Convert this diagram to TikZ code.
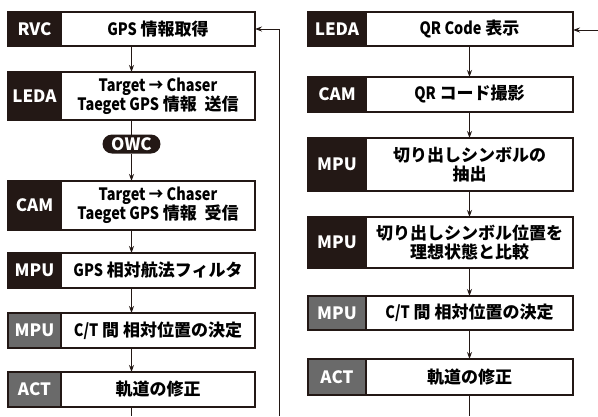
\documentclass[tikz,border=0pt]{standalone}
\usepackage{fontspec}
\setmainfont{Noto Sans CJK JP}
\newfontfamily\cond[FakeStretch=0.85]{Noto Sans CJK JP}
\usetikzlibrary{calc,arrows.meta,shapes.misc}
\definecolor{darklab}{HTML}{231815}
\definecolor{graylab}{HTML}{6A6A6A}
\definecolor{linec}{HTML}{231815}
\tikzset{
  outbox/.style={draw=linec, line width=1.1pt, fill=white, inner sep=0pt, outer sep=0pt},
  labbox/.style={draw=linec, line width=1.1pt, text=white, font=\fontsize{17}{19}\selectfont\bfseries, inner sep=0pt, outer sep=0pt},
  txt/.style={font=\fontsize{17}{19}\selectfont\bfseries, align=center, inner sep=0pt, text=black},
  arr/.style={draw=linec, line width=0.9pt, -{Stealth[length=7pt,width=5pt]}},
  plain/.style={draw=linec, line width=0.9pt},
  pill/.style={rounded rectangle, fill=darklab, text=white, font=\fontsize{17}{19}\selectfont\bfseries, minimum width=58pt, minimum height=19pt, inner sep=0pt, outer sep=0pt}
}
\newcommand\lat[1]{{\cond\bfseries #1}}
\newcommand\flowstep[9]{%
  \node[outbox, minimum width=#5pt, minimum height=#6pt, anchor=north west] (#1) at (#2,#3) {};
  \node[labbox, fill=#7, minimum width=#4pt, minimum height=#6pt, anchor=north west] (#1l) at (#1.north west) {#8};
  \node[txt] (#1t) at ($(#1l.east)!0.5!(#1.east)$) {#9};
}
\begin{document}
\begin{tikzpicture}[x=1pt,y=-1pt]
\useasboundingbox (0,0) rectangle (598,416);
% left column
\flowstep{L1}{8}{12}{53}{247}{34}{darklab}{RVC}{\lat{GPS} 情報取得}
\flowstep{L2}{8}{72}{53}{247}{48}{darklab}{LEDA}{\lat{Target → Chaser}\\\lat{Taeget GPS} 情報\ \ 送信}
\node[pill] (owc) at (131.5,144) {OWC};
\flowstep{L3}{8}{181}{53}{247}{49}{darklab}{CAM}{\lat{Target → Chaser}\\\lat{Taeget GPS} 情報\ \ 受信}
\flowstep{L4}{8}{253}{53}{247}{35}{darklab}{MPU}{\lat{GPS} 相対航法フィルタ}
\flowstep{L5}{8}{313}{53}{247}{35}{graylab}{MPU}{\lat{C/T} 間 相対位置の決定}
\flowstep{L6}{8}{372}{53}{247}{35}{graylab}{ACT}{軌道の修正}
% right column
\flowstep{R1}{308}{12}{58}{265}{34}{darklab}{LEDA}{\lat{QR Code} 表示}
\flowstep{R2}{308}{77}{58}{265}{35}{darklab}{CAM}{\lat{QR} コード撮影}
\flowstep{R3}{308}{138}{58}{265}{53}{darklab}{MPU}{切り出しシンボルの\\抽出}
\flowstep{R4}{308}{217}{58}{265}{51}{darklab}{MPU}{切り出しシンボル位置を\\理想状態と比較}
\flowstep{R5}{308}{296}{58}{265}{34}{graylab}{MPU}{\lat{C/T} 間 相対位置の決定}
\flowstep{R6}{308}{359}{58}{265}{36}{graylab}{ACT}{軌道の修正}
% left connectors
\draw[arr] (L1.south) -- (L2.north);
\draw[plain] (L2.south) -- (owc.north);
\draw[arr] (owc.south) -- (L3.north);
\draw[arr] (L3.south) -- (L4.north);
\draw[arr] (L4.south) -- (L5.north);
\draw[arr] (L5.south) -- (L6.north);
\coordinate (Lend) at (131.5,416);
\draw[plain] (L6.south) -- (Lend);
\coordinate (Lloop) at (279,416);
\draw[arr] (Lloop) |- (L1.east);
% right connectors
\draw[arr] (R1t.south |- R1.south) -- (R2t.north |- R2.north);
\draw[arr] (R2t.south |- R2.south) -- (R3t.north |- R3.north);
\draw[arr] (R3t.south |- R3.south) -- (R4t.north |- R4.north);
\draw[arr] (R4t.south |- R4.south) -- (R5t.north |- R5.north);
\draw[arr] (R5t.south |- R5.south) -- (R6t.north |- R6.north);
\coordinate (Rend) at (469.5,416);
\draw[plain] (R6t.south |- R6.south) -- (Rend);
\coordinate (Rin) at (598,30);
\draw[arr] (Rin) -- (Rin -| R1.east);
\end{tikzpicture}
\end{document}
